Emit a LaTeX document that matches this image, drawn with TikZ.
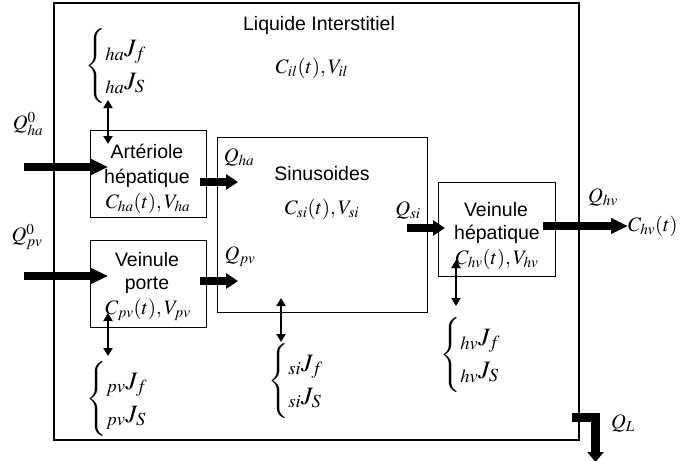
\documentclass[tikz,border=0pt]{standalone}
\usepackage{mathptmx}
\usepackage[no-math]{fontspec}
\setmainfont{Liberation Sans}
\usetikzlibrary{arrows.meta}
\newcommand\jflux[1]{$\left\{\begin{array}{@{}l@{}}{}_{#1}J_{f}\\{}_{#1}J_{S}\end{array}\right.$}
\begin{document}
\begin{tikzpicture}[x=1pt,y=-1pt,
  outerbox/.style={draw, line width=2pt, inner sep=0pt, anchor=north west},
  cbox/.style={draw, line width=1.4pt, inner sep=0pt, anchor=north west},
  txt/.style={font=\fontsize{19.5}{22}\selectfont, inner sep=0pt},
  mth/.style={font=\fontsize{20.5}{24}\selectfont, inner sep=0pt},
  flux/.style={font=\fontsize{25}{30}\selectfont\renewcommand\arraystretch{1.1}, inner sep=0pt, anchor=west},
  bigarrow/.style={line width=8pt, -{Triangle[length=17pt,width=15pt]}},
  midarrow/.style={line width=8pt, -{Triangle[length=12pt,width=15pt]}},
  dblarrow/.style={line width=2.6pt, {Triangle[length=8pt,width=9pt]}-{Triangle[length=8pt,width=9pt]}}]
\useasboundingbox (0,0) rectangle (697,461);
% boxes
\node[outerbox, minimum width=525pt, minimum height=437pt] (il) at (53,1.5) {};
\node[cbox, minimum width=116pt, minimum height=87pt] (art) at (90,130) {};
\node[cbox, minimum width=116pt, minimum height=87pt] (vp) at (90,240) {};
\node[cbox, minimum width=210pt, minimum height=175pt] (si) at (217,137) {};
\node[cbox, minimum width=117pt, minimum height=94pt] (vh) at (438,182) {};
% texts
\node[txt] (iltitle) at (319,25) {Liquide Interstitiel};
\node[mth] (ilc) at (312,68) {$C_{il}(t),V_{il}$};
\node[mth] (qha0) at (28,124) {$Q^{0}_{ha}$};
\node[mth] (qpv0) at (27,237) {$Q^{0}_{pv}$};
\node[txt] (art1) at (147,151) {Artériole};
\node[txt] (art2) at (147,178) {hépatique};
\node[mth] (art3) at (148,203) {$C_{ha}(t),V_{ha}$};
\node[txt] (vp1) at (147,260) {Veinule};
\node[txt] (vp2) at (147,285) {porte};
\node[mth] (vp3) at (148,310) {$C_{pv}(t),V_{pv}$};
\node[mth] (qha) at (239,157) {$Q_{ha}$};
\node[mth] (qpv) at (240,257) {$Q_{pv}$};
\node[txt] (si1) at (322,174) {Sinusoides};
\node[mth] (si2) at (322,209) {$C_{si}(t),V_{si}$};
\node[mth] (qsi) at (408,210) {$Q_{si}$};
\node[txt] (vh1) at (496,210) {Veinule};
\node[txt] (vh2) at (497,234) {hépatique};
\node[mth] (vh3) at (497,259) {$C_{hv}(t),V_{hv}$};
\node[mth] (qhv) at (603,197) {$Q_{hv}$};
\node[mth, anchor=west] (chv) at (628,226) {$C_{hv}(t)$};
\node[mth] (ql) at (623,423) {$Q_{L}$};
% flux braces
\node[flux] (fha) at (85,66) {\jflux{ha}};
\node[flux] (fpv) at (86,399) {\jflux{pv}};
\node[flux] (fsi) at (268,381) {\jflux{si}};
\node[flux] (fhv) at (440,355) {\jflux{hv}};
% coordinates
\coordinate (haS) at (24,167);
\coordinate (haT) at (108,167);
\coordinate (pvS) at (24,276);
\coordinate (pvT) at (108,276);
\coordinate (a1S) at (200,182);
\coordinate (a1T) at (238,182);
\coordinate (a2S) at (200,281);
\coordinate (a2T) at (238,281);
\coordinate (a3S) at (407,228);
\coordinate (a3T) at (445,228);
\coordinate (a4S) at (543,226);
\coordinate (qlA) at (572,417.5);
\coordinate (qlB) at (595.5,417.5);
\coordinate (qlC) at (595.5,462);
\coordinate (dha1) at (108,100);
\coordinate (dha2) at (108,144);
\coordinate (dpv1) at (108,313);
\coordinate (dpv2) at (108,356);
\coordinate (dsi1) at (281,298);
\coordinate (dsi2) at (281,342);
\coordinate (dhv1) at (456,260);
\coordinate (dhv2) at (456,306);
% thick arrows
\draw[bigarrow] (haS) -- (haT);
\draw[bigarrow] (pvS) -- (pvT);
\draw[midarrow] (a1S) -- (a1T);
\draw[midarrow] (a2S) -- (a2T);
\draw[midarrow] (a3S) -- (a3T);
\draw[bigarrow] (a4S) -- (chv.west);
\draw[line width=9pt, -{Triangle[length=10pt,width=16pt]}] (qlA) -- (qlB) -- (qlC);
% double arrows
\draw[dblarrow] (dha1) -- (dha2);
\draw[dblarrow] (dpv1) -- (dpv2);
\draw[dblarrow] (dsi1) -- (dsi2);
\draw[dblarrow] (dhv1) -- (dhv2);
\end{tikzpicture}
\end{document}
